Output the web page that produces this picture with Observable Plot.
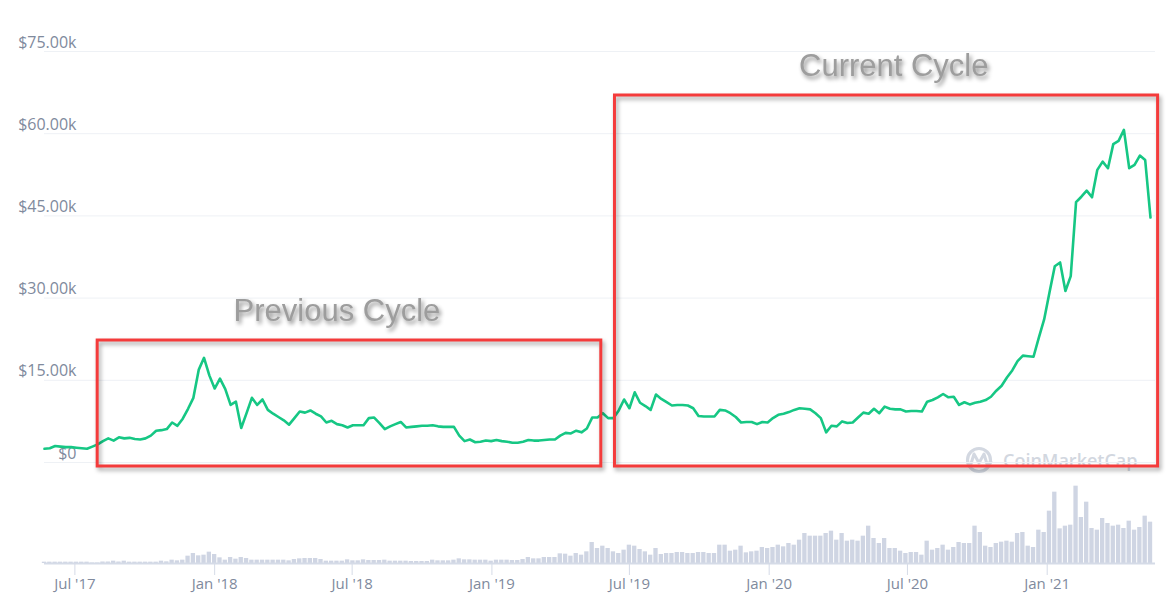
<!DOCTYPE html>
<html><head><meta charset="utf-8">
<script src="https://cdn.jsdelivr.net/npm/d3@7"></script>
<script src="https://cdn.jsdelivr.net/npm/@observablehq/plot@0.6"></script>
<style>
html,body{margin:0;padding:0;background:#fff;}
#wrap{position:relative;width:1171px;height:614px;overflow:hidden;}
#wm,#price,#volume{position:absolute;left:0;}
#wm{top:0;}
#price{top:0;}
#volume{top:480px;}
</style></head><body>
<div id="wrap">
<svg id="wm" width="1171" height="614" xmlns="http://www.w3.org/2000/svg">
  <circle cx="979" cy="460" r="11.5" fill="none" stroke="#d3d8e1" stroke-width="3.2"/>
  <path d="M970,467 L974,454 L979,463 L984,454 L987,464 L991,462" fill="none" stroke="#d3d8e1" stroke-width="3" stroke-linejoin="round" stroke-linecap="round"/>
  <text x="1003" y="467" font-family="Open Sans" font-weight="600" font-size="18" fill="#d2d7df">CoinMarketCap</text>
</svg>
<div id="volume"></div>
<div id="price"></div>
</div>
<script>
// weekly series, starting date of first week
const startDate = "2017-05-22";
// BTC price, thousands of USD (weekly)
const priceK = [
2.5,2.6,3.0,2.9,2.8,2.8,2.7,2.6,2.5,2.9,
3.3,3.9,4.4,4.0,4.6,4.4,4.5,4.3,4.2,4.4,
4.9,5.8,5.9,6.1,7.3,6.7,8.0,9.8,11.8,16.9,
19.1,15.9,13.5,15.3,13.4,10.5,11.1,6.3,9.0,11.8,
10.5,11.5,9.6,8.9,8.3,7.7,6.9,8.1,9.3,9.1,
9.5,8.9,8.4,7.3,7.6,7.0,6.8,6.4,6.8,6.8,
6.8,8.1,8.2,7.2,6.1,6.6,7.0,7.4,6.4,6.5,
6.6,6.7,6.7,6.8,6.6,6.5,6.5,6.5,4.9,3.9,
4.2,3.7,3.8,4.0,3.9,4.1,3.9,3.8,3.6,3.6,
3.8,4.1,4.0,4.0,4.1,4.2,4.2,4.9,5.4,5.3,
5.8,5.5,6.2,8.2,8.2,9.0,8.1,8.1,9.5,11.5,
9.9,12.8,10.9,10.3,9.6,12.4,11.6,11.0,10.4,10.5,
10.5,10.4,9.9,8.5,8.4,8.4,8.4,9.6,9.5,9.0,
8.3,7.3,7.4,7.4,7.0,7.4,7.3,8.1,8.7,8.9,
9.2,9.6,9.9,9.8,9.7,9.0,8.1,5.5,6.7,6.6,
7.5,7.2,7.3,8.2,9.1,8.9,9.8,9.0,10.2,9.8,
9.7,9.7,9.3,9.4,9.4,9.3,11.1,11.4,11.9,12.5,
11.9,12.0,10.5,11.0,10.6,10.9,11.1,11.4,12.0,13.1,
14.0,15.5,16.8,18.5,19.5,19.4,19.3,22.8,26.1,31.0,
35.8,36.5,31.3,34.0,47.5,48.5,49.6,48.4,53.4,54.9,
53.7,58.1,58.7,60.7,53.7,54.3,56.0,55.2,44.7
];
// weekly volume, billions of USD
const volumeB = [
8,8,8,8,8,8,8,8,8,3,
3,9,9,14,9,14,8,8,8,8,
8,8,14,10,20,16,20,44,60,46,
50,68,54,34,20,36,26,36,30,20,
20,20,20,20,20,20,16,24,28,30,
30,30,24,14,14,14,14,22,16,16,
22,18,18,18,20,14,14,14,14,12,
12,12,12,20,16,16,16,20,28,22,
22,20,20,20,14,20,20,20,18,18,
24,36,28,28,36,36,36,58,56,44,
60,50,70,126,90,104,90,70,60,80,
110,104,84,70,50,90,54,60,60,66,
66,60,60,66,66,60,60,110,110,74,
80,104,64,70,74,96,90,96,110,100,
120,110,140,180,164,164,164,180,194,140,
180,134,140,134,164,224,150,120,150,90,
90,74,60,66,66,50,134,80,90,110,
80,96,126,120,120,224,186,104,96,120,
128,134,128,180,186,104,96,200,186,314,
428,208,224,230,464,276,368,210,200,270,
240,224,230,210,254,200,216,284,248
];
// axes
const yTicks = [0, 15000, 30000, 45000, 60000, 75000];
const yTickLabels = ["$0", "$15.00k", "$30.00k", "$45.00k", "$60.00k", "$75.00k"];
const xTicks = ["2017-07-01","2018-01-01","2018-07-01","2019-01-01","2019-07-01","2020-01-01","2020-07-01","2021-01-01"];
// annotation boxes
const boxLabels = ["Previous Cycle", "Current Cycle"];
const boxStart = ["2017-07-31", "2019-06-12"];
const boxEnd = ["2019-05-25", "2021-05-27"];
const boxLow = [-730, -730];
const boxHigh = [22260, 66970];
const labelDate = ["2018-06-11", "2020-06-13"];
const labelPrice = [25900, 70600];

const parse = d3.utcParse("%Y-%m-%d");
const start = parse(startDate);
const dates = priceK.map((_, i) => d3.utcDay.offset(start, 7 * i));
const priceTable = priceK.map((p, i) => ({date: dates[i], price: p * 1000}));
const volTable = volumeB.map((v, i) => ({
  x1: d3.utcHour.offset(dates[i], -84),
  x2: d3.utcHour.offset(dates[i], 84),
  y1: 0, y2: v
}));
const boxes = boxLabels.map((l, i) => ({
  label: l, start: parse(boxStart[i]), end: parse(boxEnd[i]),
  low: boxLow[i], high: boxHigh[i],
  ld: parse(labelDate[i]), lp: labelPrice[i]
}));
const xDomain = [dates[0], dates[dates.length - 1]];
const tickDates = xTicks.map(parse);

const pricePlot = Plot.plot({
  width: 1171, height: 480,
  marginTop: 51, marginBottom: 18, marginLeft: 44, marginRight: 21,
  style: {background: "transparent", overflow: "visible"},
  x: {type: "utc", domain: xDomain, axis: null},
  y: {domain: [0, 75000], axis: null},
  marks: [
    Plot.ruleY(yTicks, {stroke: "#eef1f5", strokeWidth: 1, insetRight: -5}),
    Plot.text(yTicks, {frameAnchor: "left", y: d => d, text: (d, i) => yTickLabels[i],
      textAnchor: "end", dx: 32, dy: -9, fill: "#808a9d", fontSize: 16, fontFamily: "Open Sans"}),
    Plot.line(priceTable, {x: "date", y: "price", stroke: "#16c784", strokeWidth: 2.6}),
    Plot.rect(boxes, {x1: "start", x2: "end", y1: "low", y2: "high",
      fill: "none", stroke: "#f43b3b", strokeWidth: 3}),
    Plot.text(boxes, {x: "ld", y: "lp", text: "label", lineAnchor: "bottom", textAnchor: "middle",
      fill: "#9d9d9d", fontSize: 31, fontFamily: "Liberation Sans"})
  ]
});
pricePlot.querySelectorAll('g[aria-label="rect"]').forEach(g => g.style.filter = "drop-shadow(2px 3px 2px rgba(0,0,0,0.35))");
const textGroups = pricePlot.querySelectorAll('g[aria-label="text"]');
textGroups[textGroups.length - 1].style.filter = "drop-shadow(2px 3px 2px rgba(0,0,0,0.45))";
document.getElementById("price").appendChild(pricePlot);

const volPlot = Plot.plot({
  width: 1171, height: 134,
  marginTop: 3, marginBottom: 51, marginLeft: 44, marginRight: 21,
  style: {background: "transparent", overflow: "visible"},
  x: {type: "utc", domain: xDomain},
  y: {domain: [0, 480], axis: null},
  marks: [
    Plot.rect(volTable, {x1: "x1", x2: "x2", y1: "y1", y2: "y2", fill: "#cfd5e3", insetLeft: 0.5, insetRight: 0.5}),
    Plot.ruleY([0], {stroke: "#d5dbe7", strokeWidth: 2, insetRight: -5}),
    Plot.axisX(tickDates, {tickSize: 12, tickPadding: 3, tickFormat: d3.utcFormat("%b '%y"),
      stroke: "#d5dbe7", fill: "#808a9d", fontSize: 15, fontFamily: "Open Sans", label: null})
  ]
});
document.getElementById("volume").appendChild(volPlot);
</script>
</body></html>
